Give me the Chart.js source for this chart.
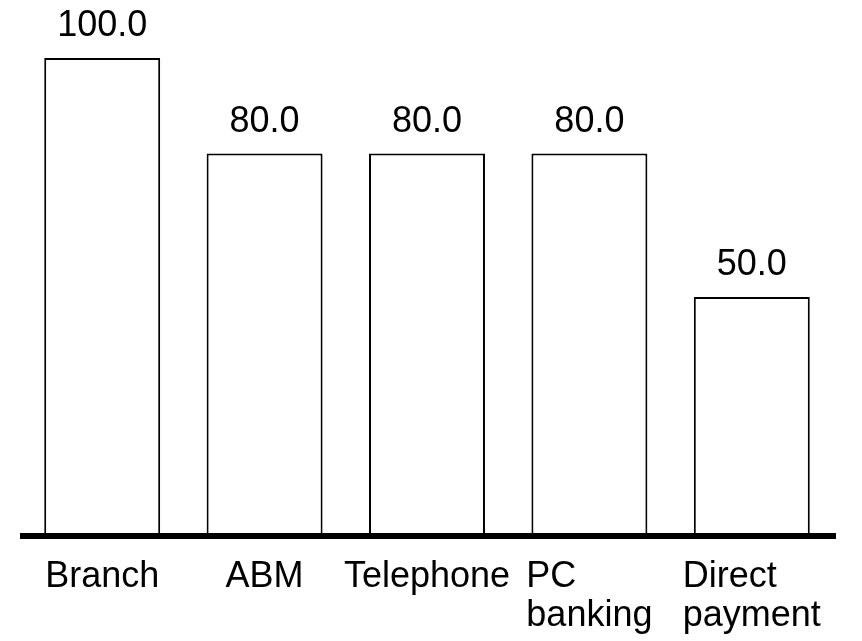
<!DOCTYPE html>
<html>
<head>
<meta charset="utf-8">
<script src="https://cdn.jsdelivr.net/npm/chart.js@4/dist/chart.umd.min.js"></script>
<style>
  body { margin: 0; background: #fff; }
  #wrap { width: 862px; height: 641px; position: relative; }
</style>
</head>
<body>
<div id="wrap"><canvas id="channels"></canvas></div>
<script>
// categories and values
var categories = [['Branch'], ['ABM'], ['Telephone'], ['PC', 'banking'], ['Direct', 'payment']];
var values = [100.0, 80.0, 80.0, 80.0, 50.0];

var FONT = '36px "Liberation Sans", Arial, sans-serif';

// value labels above each bar
var valueLabels = {
  id: 'valueLabels',
  afterDatasetsDraw: function(chart) {
    var ctx = chart.ctx;
    var meta = chart.getDatasetMeta(0);
    ctx.save();
    ctx.font = FONT;
    ctx.fillStyle = '#000';
    ctx.textAlign = 'center';
    ctx.textBaseline = 'alphabetic';
    meta.data.forEach(function(bar, i) {
      ctx.fillText(values[i].toFixed(1), bar.x, bar.y - 22);
    });
    ctx.restore();
  }
};

// thick baseline + category labels (lines left aligned inside a centred block)
var axisLine = {
  id: 'axisLine',
  afterDraw: function(chart) {
    var ctx = chart.ctx;
    var area = chart.chartArea;
    var y0 = chart.scales.y.getPixelForValue(0);
    var x = chart.scales.x;
    ctx.save();
    ctx.strokeStyle = '#000';
    ctx.lineWidth = 6;
    ctx.beginPath();
    ctx.moveTo(area.left - 1, y0);
    ctx.lineTo(area.right + 3, y0);
    ctx.stroke();

    ctx.font = FONT;
    ctx.fillStyle = '#000';
    ctx.textAlign = 'left';
    ctx.textBaseline = 'alphabetic';
    categories.forEach(function(lines, i) {
      var cx = x.getPixelForTick(i);
      var w = 0;
      lines.forEach(function(l) { w = Math.max(w, ctx.measureText(l).width); });
      lines.forEach(function(l, j) {
        ctx.fillText(l, cx - w / 2, y0 + 51 + j * 39);
      });
    });
    ctx.restore();
  }
};

new Chart(document.getElementById('channels'), {
  type: 'bar',
  data: {
    labels: categories,
    datasets: [{
      data: values,
      backgroundColor: '#fff',
      borderColor: '#000',
      borderWidth: 2,
      borderSkipped: false,
      categoryPercentage: 1.0,
      barPercentage: 0.714
    }]
  },
  options: {
    responsive: true,
    maintainAspectRatio: false,
    animation: false,
    layout: { padding: { left: 21, right: 29, top: 58, bottom: 105 } },
    plugins: { legend: { display: false }, tooltip: { enabled: false } },
    scales: {
      x: { display: false },
      y: { display: false, min: 0, max: 100 }
    }
  },
  plugins: [valueLabels, axisLine]
});
</script>
</body>
</html>
